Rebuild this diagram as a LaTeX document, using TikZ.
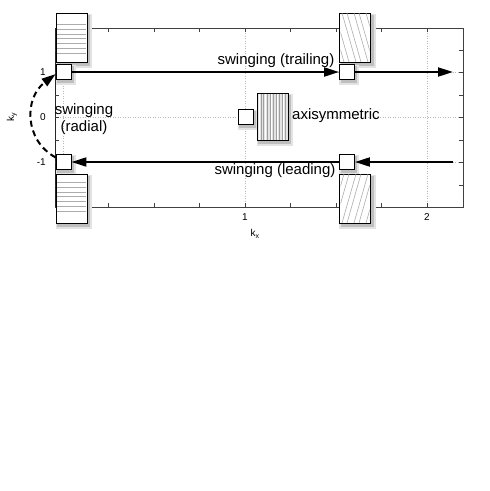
\documentclass[tikz,border=0pt]{standalone}
\usepackage{fontspec}
\setmainfont{Liberation Sans}
\usetikzlibrary{arrows.meta,calc}
\pgfdeclarelayer{axeslayer}
\pgfdeclarelayer{shadowlayer}
\pgfsetlayers{axeslayer,shadowlayer,main}
\begin{document}
\begin{tikzpicture}[x=1pt,y=-1pt,
  sq/.style={draw=black, line width=0.9pt, fill=white, minimum size=15pt, inner sep=0pt},
  hbox/.style={draw=black, line width=1pt, fill=white, minimum width=31pt, minimum height=49pt, inner sep=0pt},
  hatch/.style={draw=gray!65, line width=0.6pt},
  arr/.style={line width=2pt, -{Triangle[length=15pt,width=9pt]}},
  lbl/.style={font=\fontsize{15}{17}\selectfont, inner sep=0pt},
  ticklbl/.style={font=\fontsize{10}{12}\selectfont, inner sep=0pt},
  axisline/.style={draw=gray!50!black, line width=0.7pt},
  tickline/.style={draw=gray!50!black, line width=0.5pt},
  gridline/.style={draw=gray!55, line width=0.5pt, dotted},
]
\useasboundingbox (0,0) rectangle (490,491);
\begin{pgfonlayer}{axeslayer}
% grid
\draw[gridline] (63,28) -- (63,207);
\draw[gridline] (245,28) -- (245,207);
\draw[gridline] (427,28) -- (427,207);
\draw[gridline] (55,72) -- (463,72);
\draw[gridline] (55,117) -- (463,117);
\draw[gridline] (55,162) -- (463,162);
% axes
\draw[axisline] (55,28) rectangle (463,207);
\draw[draw=gray!30!black, line width=1pt] (55,28) -- (55,207);
\foreach \x in {108.5,154,199.5,245,290.5,336,381.5,427} {
  \draw[tickline] (\x,28) -- (\x,32);
  \draw[tickline] (\x,207) -- (\x,203);
}
\foreach \y in {50.5,72,95,117,140,162,185} {
  \draw[tickline] (55,\y) -- (59,\y);
  \draw[tickline] (463,\y) -- (459,\y);
}
\end{pgfonlayer}
% tick labels
\node[ticklbl] (tx1) at (245,217) {1};
\node[ticklbl] (tx2) at (427,217) {2};
\node[ticklbl] (kx) at (255,234) {k\textsubscript{x}};
\node[ticklbl, anchor=east] (ty1) at (46,72) {1};
\node[ticklbl, anchor=east] (ty0) at (46,117) {0};
\node[ticklbl, anchor=east] (tym1) at (46,162) {-1};
\node[ticklbl, rotate=90] (ky) at (12,117) {k\textsubscript{y}};

% hatched boxes
\node[hbox] (bTL) at (71.5,37.5) {};
\foreach \y in {24,29,34,38.5,43,48,53} \draw[hatch] (57,\y) -- (86,\y);
\node[hbox] (bBL) at (71.5,198.5) {};
\foreach \y in {182,187,192,196.5,201,206,211} \draw[hatch] (57,\y) -- (86,\y);
\node[hbox] (bTR) at (355,37.5) {};
\begin{scope}
  \clip (340.5,13.5) rectangle (369.5,61.5);
  \foreach \x in {330,335,342,347,354,359,366} \draw[hatch] (\x,13) -- (\x+14,62);
\end{scope}
\node[hbox] (bBR) at (355,198.5) {};
\begin{scope}
  \clip (340.5,174.5) rectangle (369.5,222.5);
  \foreach \x in {330,335,342,347,354,359,366} \draw[hatch] (\x,223) -- (\x+14,174);
\end{scope}
\node[hbox, minimum height=47pt, fill=gray!22] (bM) at (272.5,116.5) {};
\foreach \x in {261,263.5,267,270,273.5,276,279.5,282,285} \draw[draw=gray!75, line width=0.7pt] (\x,93.5) -- (\x,139.5);
\foreach \x in {259.5,265,271.5,277.5,283.5} \draw[draw=white, line width=0.6pt] (\x,93.5) -- (\x,139.5);

% squares
\node[sq] (sA) at (63.5,72) {};
\node[sq] (sB) at (347,72) {};
\node[sq] (sC) at (245.5,117) {};
\node[sq] (sD) at (63.5,162) {};
\node[sq] (sE) at (347,162) {};
\coordinate (endT) at (453,72);
\coordinate (startL) at (453,162);

% shadows
\begin{pgfonlayer}{shadowlayer}
\foreach \n in {bTL,bBL,bTR,bBR,bM,sA,sB,sC,sD,sE} {
  \fill[gray!22] ($(\n.north west)+(0,1)$) rectangle ($(\n.south east)+(4.5,5.5)$);
  \fill[gray!50] ($(\n.north west)+(1.5,2)$) rectangle ($(\n.south east)+(2.5,3.2)$);
}
\end{pgfonlayer}

% arrows
\draw[arr] (sA.east) -- (sB.west);
\draw[arr] (sB.east) -- (endT);
\draw[arr] (startL) -- (sE.east);
\draw[arr] (sE.west) -- (sD.east);
\draw[line width=2pt, dash pattern=on 6pt off 4pt, -{Triangle[length=14pt,width=9pt]}]
  (sD.150) .. controls (24,140) and (24,98) .. (sA.195);

% labels
\node[lbl] (lT) at (276,61) {swinging (trailing)};
\node[lbl] (lL) at (275,171) {swinging (leading)};
\node[lbl, anchor=west] (lA) at (292,116) {axisymmetric};
\node[lbl, align=center] (lR) at (84,119.5) {swinging\\(radial)};
\end{tikzpicture}
\end{document}
